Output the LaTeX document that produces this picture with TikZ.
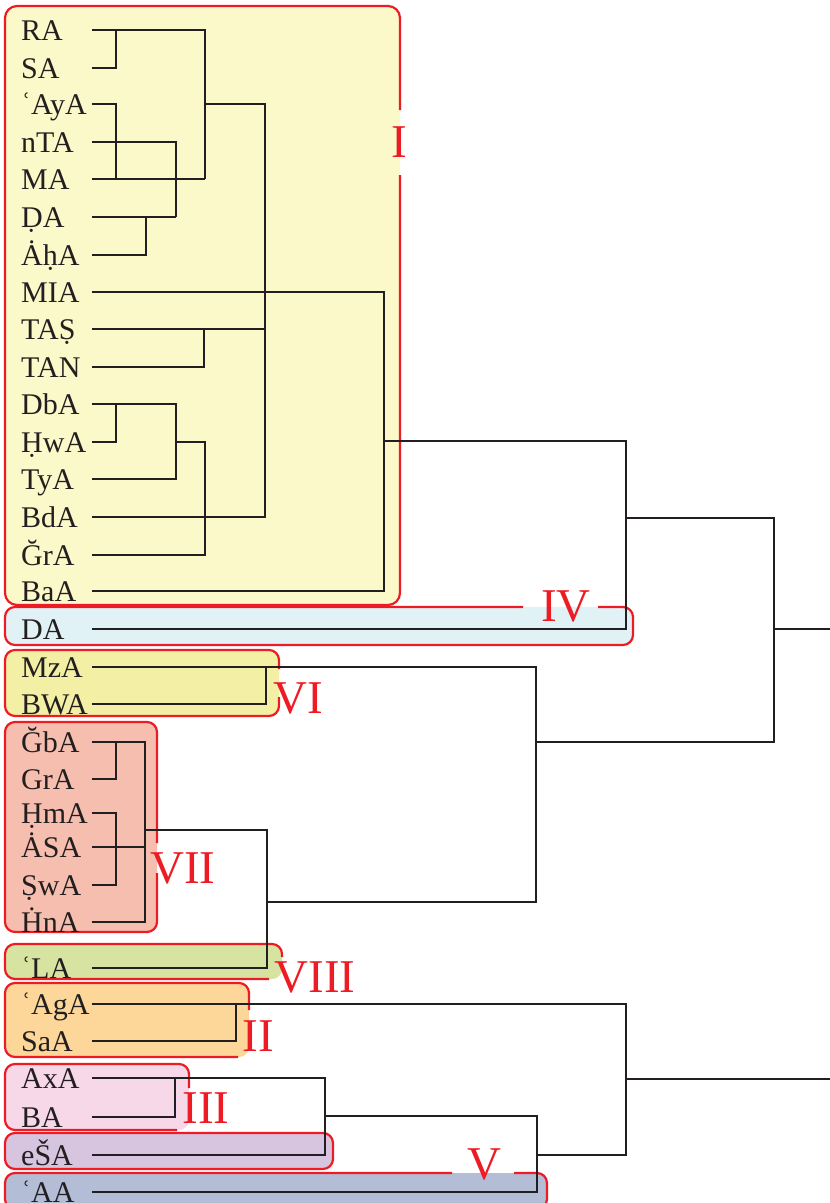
\documentclass[tikz,border=0pt]{standalone}
\usepackage{fontspec}
\setmainfont{Liberation Serif}
\definecolor{redb}{HTML}{ED1C24}
\definecolor{cI}{HTML}{FBF8C9}
\definecolor{cIV}{HTML}{E1F2F7}
\definecolor{cVI}{HTML}{F3EFA5}
\definecolor{cVII}{HTML}{F6BEAE}
\definecolor{cVIII}{HTML}{D7E4A1}
\definecolor{cII}{HTML}{FDD79A}
\definecolor{cIII}{HTML}{F7D8E8}
\definecolor{cV}{HTML}{D7C5DF}
\definecolor{cVb}{HTML}{B4BDD6}
\definecolor{ink}{HTML}{231F20}
\newcommand\myleaf[3]{\node[leaf] (l#1) at (21,{#2+10}) {#3}; \coordinate (#1) at (92,#2);}
\begin{document}
\begin{tikzpicture}[x=1pt,y=-1pt,
  bord/.style={draw=redb,line width=2.2pt,rounded corners=10pt},
  grpfill/.style={rounded corners=10pt},
  leaf/.style={anchor=base west,inner sep=0pt,font=\fontsize{30}{30}\selectfont,text=ink},
  num/.style={anchor=base,inner sep=0pt,font=\fontsize{47}{47}\selectfont,text=redb},
  tree/.style={draw=ink,line width=1.6pt},
  treethick/.style={draw=ink,line width=2.6pt}]
\useasboundingbox (0,0) rectangle (830,1203);
\clip (0,0) rectangle (830,1203);
% group fills
\fill[cI,grpfill,rounded corners=12pt] (5,6) rectangle (400,605);
\fill[cIV,grpfill] (5,607) rectangle (633,645);
\fill[cVI,grpfill] (5,650) rectangle (279,716);
\fill[cVII,grpfill] (5,722) rectangle (157,932);
\fill[cVIII,grpfill] (5,944) rectangle (282,979);
\fill[cII,grpfill] (5,983) rectangle (249,1057);
\fill[cIII,grpfill] (5,1064) rectangle (189,1130);
\fill[cV,grpfill] (5,1133) rectangle (333,1169);
\fill[cVb,grpfill] (5,1173) rectangle (547,1209);
% group borders
\draw[bord,rounded corners=12pt] (400,175) -- (400,605) -- (5,605) -- (5,6) -- (400,6) -- (400,110);
\draw[bord] (598,607) -- (633,607) -- (633,645) -- (5,645) -- (5,607) -- (523,607);
\draw[bord] (279,697) -- (279,716) -- (5,716) -- (5,650) -- (279,650) -- (279,669);
\draw[bord] (157,873) -- (157,932) -- (5,932) -- (5,722) -- (157,722) -- (157,843);
\draw[bord] (269,979) -- (5,979) -- (5,944) -- (282,944) -- (282,957);
\draw[bord] (238,1057) -- (5,1057) -- (5,983) -- (249,983) -- (249,1010);
\draw[bord] (177,1130) -- (5,1130) -- (5,1064) -- (189,1064) -- (189,1088);
\draw[bord] (5,1133) rectangle (333,1169);
\draw[bord] (514,1173) -- (547,1173) -- (547,1209) -- (5,1209) -- (5,1173) -- (452,1173);
% group labels
\node[num] (gI) at (399.5,157) {I};
\node[num] (gIV) at (566,621) {IV};
\node[num] (gVI) at (298,713) {VI};
\node[num] (gVII) at (183,883) {VII};
\node[num] (gVIII) at (315,992) {VIII};
\node[num] (gII) at (258,1051) {II};
\node[num] (gIII) at (206,1123) {III};
\node[num] (gV) at (484,1179) {V};
% leaves
\myleaf{RA}{30}{RA}
\myleaf{SA}{68}{SA}
\myleaf{AyA}{104}{ʿAyA}
\myleaf{nTA}{142}{nTA}
\myleaf{MA}{179}{MA}
\myleaf{Dd}{217}{ḌA}
\myleaf{AhA}{255}{ȦḥA}
\myleaf{MIA}{292}{MIA}
\myleaf{TAS}{329}{TAṢ}
\myleaf{TAN}{367}{TAN}
\myleaf{DbA}{404}{DbA}
\myleaf{HwA}{442}{ḤwA}
\myleaf{TyA}{479}{TyA}
\myleaf{BdA}{517}{BdA}
\myleaf{Grr}{555}{ĞrA}
\myleaf{BaA}{591}{BaA}
\myleaf{DA}{629}{DA}
\myleaf{MzA}{667}{MzA}
\myleaf{BWA}{704}{BWA}
\myleaf{Gb}{742}{ĞbA}
\myleaf{GrA}{779}{GrA}
\myleaf{HmA}{813}{ḤmA}
\myleaf{ASA}{847}{ȦSA}
\myleaf{SwA}{885}{ṢwA}
\myleaf{HnA}{922}{ḢnA}
\myleaf{LA}{968}{ʿLA}
\myleaf{AgA}{1004}{ʿAgA}
\myleaf{SaA}{1041}{SaA}
\myleaf{AxA}{1078}{AxA}
\myleaf{BA}{1117}{BA}
\myleaf{eSA}{1155}{eŠA}
\myleaf{AA}{1192}{ʿAA}
% tree
\draw[tree] (SA) -| (116,30);
\draw[tree] (RA) -| (205,179);
\draw[tree] (AyA) -| (116,179);
\draw[tree] (nTA) -| (176,217);
\draw[treethick] (nTA) -- (176,142);
\draw[tree] (MA) -- (205,179);
\draw[treethick] (MA) -- (176,179);
\draw[tree] (Dd) -- (176,217);
\draw[tree] (AhA) -| (146,217);
\draw[tree] (205,104) -- (265,104) |- (BdA);
\draw[tree] (TAS) -- (265,329);
\draw[tree] (TAN) -| (204,329);
\draw[tree] (MIA) -| (384,591) -- (BaA);
\draw[tree] (DbA) -| (176,479) -- (TyA);
\draw[treethick] (DbA) -- (116,404);
\draw[tree] (HwA) -| (116,404);
\draw[tree] (176,442) -| (205,555) -- (Grr);
\draw[tree] (384,441) -| (626,629) -- (DA);
\draw[tree] (626,518) -| (774,742) -- (536,742);
\draw[tree] (774,629) -- (830,629);
\draw[tree] (MzA) -| (536,902) -- (267,902);
\draw[treethick] (220,667) -- (266,667);
\draw[tree] (BWA) -| (266,667);
\draw[tree] (Gb) -| (145,922) -- (HnA);
\draw[tree] (GrA) -| (116,742);
\draw[tree] (HmA) -| (116,885) -- (SwA);
\draw[tree] (ASA) -- (145,847);
\draw[tree] (145,830) -| (267,968) -- (LA);
\draw[tree] (AgA) -| (626,1155) -- (537,1155);
\draw[tree] (SaA) -| (236,1004);
\draw[tree] (AxA) -| (325,1155) -- (eSA);
\draw[tree] (BA) -| (175,1078);
\draw[tree] (325,1116) -| (537,1192) -- (AA);
\draw[tree] (626,1079) -- (830,1079);
\end{tikzpicture}
\end{document}
